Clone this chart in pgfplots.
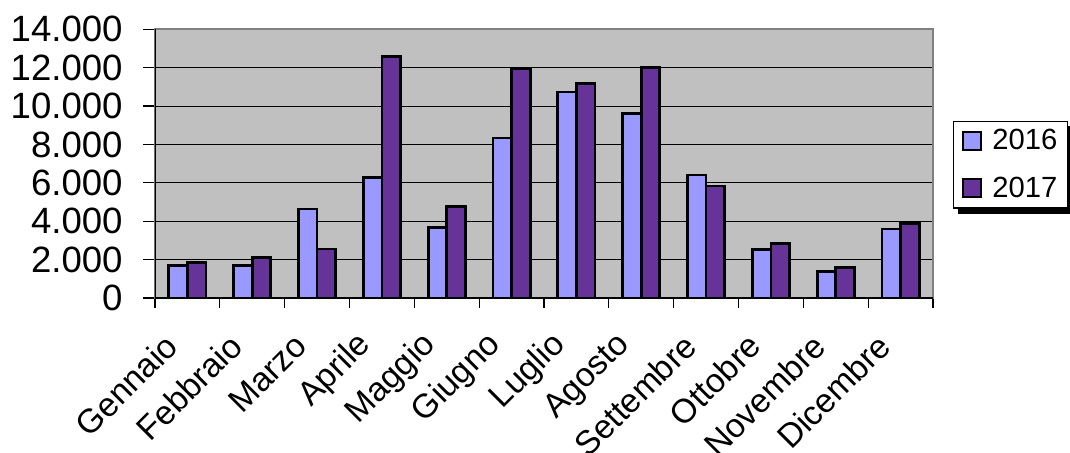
\documentclass[border=0pt]{standalone}
\usepackage{fontspec}
\setmainfont{Liberation Sans}
\usepackage{pgfplots}
\usepackage{pgfplotstable}
\pgfplotsset{compat=1.18}

\definecolor{c2016}{HTML}{9999FF}
\definecolor{c2017}{HTML}{663399}
\definecolor{plotbg}{HTML}{C0C0C0}

% monthly values, 2016 and 2017
\pgfplotstableread{
m  v16    v17
1  1700   1860
2  1680   2100
3  4640   2550
4  6270   12580
5  3670   4760
6  8340   11970
7  10730  11190
8  9620   12000
9  6410   5840
10 2540   2850
11 1370   1580
12 3600   3870
}\vendite

\begin{document}
\begin{tikzpicture}
\path[use as bounding box] (-77.5pt,-77pt) rectangle (457.5pt,149pt);
\begin{axis}[
    at={(0,0)}, anchor=south west,
    scale only axis,
    width=389pt, height=134.35pt,
    xmin=0.5, xmax=12.5,
    ymin=0, ymax=14000,
    ybar=0pt, bar width=9.3pt,
    axis background/.style={fill=plotbg},
    axis line style={draw=gray, line width=0.9pt},
    xtick={1,...,12},
    xticklabels={Gennaio,Febbraio,Marzo,Aprile,Maggio,Giugno,Luglio,Agosto,Settembre,Ottobre,Novembre,Dicembre},
    minor xtick={0.5,1.5,...,12.5},
    major x tick style={draw=none},
    ytick={0,2000,...,14000},
    tick align=outside, tick pos=left,
    major tick length=6pt, minor tick length=5pt,
    every tick/.style={black, line width=0.6pt},
    ymajorgrids, grid style={black, line width=0.5pt},
    scaled y ticks=false,
    /pgf/number format/.cd, 1000 sep={.}, assume math mode=true, /pgfplots/.cd,
    yticklabel style={font=\fontsize{18.3pt}{20pt}\selectfont, anchor=east, inner sep=0pt, xshift=-10pt},
    xticklabel style={font=\fontsize{16.8pt}{18pt}\selectfont, xshift=-8pt, yshift=-15pt, rotate=45, anchor=east, inner sep=0pt},
    legend style={name=leg, at={(1.0257,0.660)}, anchor=north west, draw=black, line width=0.6pt,
        font=\fontsize{14.6pt}{16pt}\selectfont, row sep=8pt, inner xsep=3pt},
    legend cell align=left,
    legend image code/.code={\draw[#1, draw=black, line width=1pt] (0pt,-4.5pt) rectangle (9pt,4.5pt);
        \path (-1pt,0pt) (12pt,0pt);},
]
\addplot[fill=c2016, draw=black, line width=1.4pt] table[x=m, y=v16] {\vendite};
\addplot[fill=c2017, draw=black, line width=1.4pt] table[x=m, y=v17] {\vendite};
\legend{2016\hspace{8pt},2017\hspace{8pt}}
\draw[black, line width=0.9pt] (rel axis cs:0,1) -- (rel axis cs:0,0) -- (rel axis cs:1,0);
\end{axis}
% shadow of the legend box
\fill[black] ([xshift=2.5pt]leg.south west) rectangle ([xshift=2.5pt,yshift=-2.5pt]leg.south east);
\fill[black] ([yshift=-2.5pt]leg.north east) rectangle ([xshift=2.5pt,yshift=-2.5pt]leg.south east);
\end{tikzpicture}
\end{document}
